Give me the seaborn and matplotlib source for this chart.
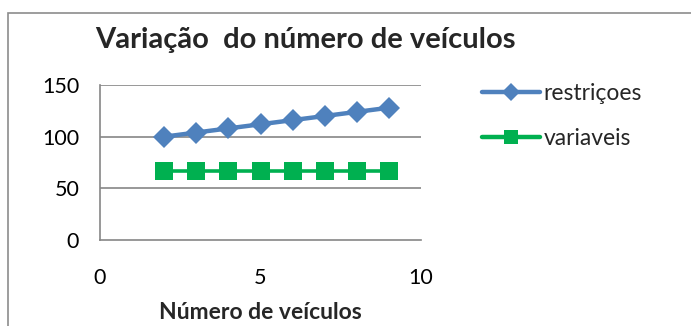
import matplotlib
matplotlib.use("Agg")
import matplotlib.pyplot as plt
from matplotlib.lines import Line2D
from matplotlib.patches import Rectangle
import seaborn as sns
import pandas as pd

# Data
num_veiculos = [2, 3, 4, 5, 6, 7, 8, 9]
restricoes = [100, 104, 108, 112, 116, 120, 124, 128]
variaveis = [67, 67, 67, 67, 67, 67, 67, 67]
series_names = ["restriçoes", "variaveis"]
x_ticks = [0, 5, 10]
y_ticks = [0, 50, 100, 150]

colors = {"restriçoes": "#4F81BD", "variaveis": "#00B050"}
markers = {"restriçoes": "D", "variaveis": "s"}

df = pd.concat([
    pd.DataFrame({"x": num_veiculos, "y": restricoes, "serie": series_names[0]}),
    pd.DataFrame({"x": num_veiculos, "y": variaveis, "serie": series_names[1]}),
])

sns.set_theme(style="white")
plt.rcParams["font.family"] = ["Lato", "DejaVu Sans"]

fig = plt.figure(figsize=(6.91, 3.26), dpi=100)
W, H = 691, 326
ax = fig.add_axes([100 / W, 1 - 240 / H, (421 - 100) / W, (240 - 85) / H])

for name in series_names:
    sub = df[df["serie"] == name]
    ms = 11 if name == "restriçoes" else 13.5
    lw = 3.2 if name == "restriçoes" else 2.6
    sns.lineplot(data=sub, x="x", y="y", ax=ax, color=colors[name],
                 marker=markers[name], markersize=ms, markeredgewidth=0,
                 linewidth=lw, legend=False, zorder=3)

ax.set_xlim(0, 10)
ax.set_ylim(0, 150)
ax.set_xticks(x_ticks)
ax.set_yticks(y_ticks)
ax.set_xticklabels([str(t) for t in x_ticks], fontsize=15.5)
ax.set_yticklabels([str(t) for t in y_ticks], fontsize=15.5)

grey = "#868686"
ax.grid(False)
for v in y_ticks[1:]:
    ax.axhline(v, color=grey, linewidth=1.2, zorder=1)
for side in ["top", "right"]:
    ax.spines[side].set_visible(False)
for side in ["left", "bottom"]:
    ax.spines[side].set_color(grey)
    ax.spines[side].set_linewidth(1.2)
ax.tick_params(axis="both", which="both", direction="out", length=6,
               width=1.2, color=grey, labelcolor="black")
ax.tick_params(axis="y", pad=9)
ax.tick_params(axis="x", pad=14)

ax.set_xlabel("Número de veículos", fontsize=16.5, fontweight="bold", labelpad=10)
ax.set_ylabel("")

fig.text(95 / W, 1 - 40 / H, "Variação  do número de veículos",
         fontsize=21, fontweight="bold", ha="left", va="center")

handles = [
    Line2D([], [], color=colors[n], marker=markers[n], linewidth=3.2,
           markersize=9 if n == "restriçoes" else 10, markeredgewidth=0)
    for n in series_names
]
fig.legend(handles, series_names, loc="upper left",
           bbox_to_anchor=(482 / W, 1 - 83 / H), frameon=False,
           fontsize=16.5, handlelength=2.55, handletextpad=0.15,
           labelspacing=1.05, borderaxespad=0, borderpad=0)

fig.patches.append(Rectangle((8 / W, -0.1), 1.2, 1 - 13 / H + 0.1,
                             transform=fig.transFigure, fill=False,
                             edgecolor="#8c8c8c", linewidth=1.2))

fig.savefig("out.png", dpi=100)
